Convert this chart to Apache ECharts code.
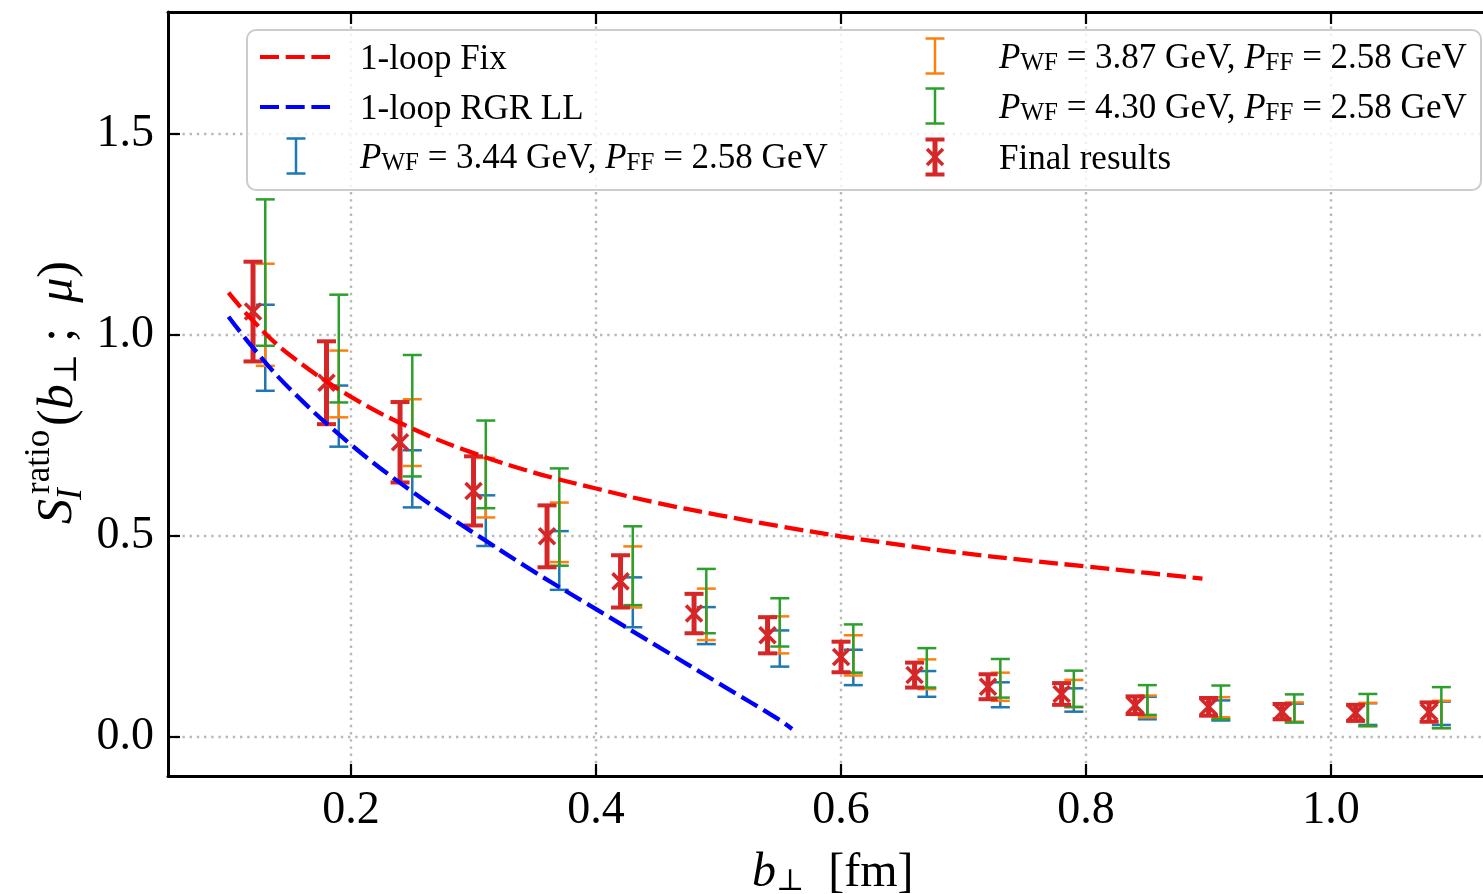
<!DOCTYPE html>
<html>
<head>
<meta charset="utf-8">
<script src="https://cdn.jsdelivr.net/npm/echarts@6/dist/echarts.min.js"></script>
<style>
  html, body { margin: 0; padding: 0; background: #ffffff; }
  #chart { width: 1483px; height: 894px; }
</style>
</head>
<body>
<div id="chart"></div>
<script>
// Transverse separations b_perp [fm]: final results and the three momentum scans (shifted slightly right)
const bFinal = [0.12, 0.18, 0.24, 0.30, 0.36, 0.42, 0.48, 0.54, 0.60, 0.66, 0.72, 0.78, 0.84, 0.90, 0.96, 1.02, 1.08];
const bScan  = [0.13, 0.19, 0.25, 0.31, 0.37, 0.43, 0.49, 0.55, 0.61, 0.67, 0.73, 0.79, 0.85, 0.91, 0.97, 1.03, 1.09];

// P_WF = 3.44 GeV, P_FF = 2.58 GeV
const p344Mean = [0.968, 0.798, 0.642, 0.538, 0.439, 0.335, 0.277, 0.220, 0.173, 0.132, 0.105, 0.092, 0.072, 0.066, 0.060, 0.057, 0.059];
const p344Err  = [0.107, 0.076, 0.071, 0.063, 0.073, 0.062, 0.046, 0.045, 0.044, 0.032, 0.031, 0.029, 0.028, 0.025, 0.023, 0.027, 0.029];
// P_WF = 3.87 GeV, P_FF = 2.58 GeV
const p387Mean = [1.050, 0.878, 0.757, 0.620, 0.509, 0.398, 0.305, 0.254, 0.203, 0.156, 0.125, 0.108, 0.076, 0.074, 0.062, 0.056, 0.056];
const p387Err  = [0.127, 0.083, 0.083, 0.074, 0.074, 0.076, 0.064, 0.046, 0.050, 0.037, 0.035, 0.034, 0.027, 0.025, 0.024, 0.029, 0.034];
// P_WF = 4.30 GeV, P_FF = 2.58 GeV
const p430Mean = [1.155, 0.966, 0.799, 0.678, 0.547, 0.426, 0.338, 0.285, 0.220, 0.172, 0.146, 0.120, 0.092, 0.086, 0.071, 0.067, 0.073];
const p430Err  = [0.182, 0.134, 0.151, 0.109, 0.121, 0.098, 0.080, 0.060, 0.060, 0.049, 0.048, 0.045, 0.037, 0.042, 0.035, 0.040, 0.051];
// Final results
const finalMean = [1.058, 0.881, 0.733, 0.612, 0.499, 0.387, 0.307, 0.253, 0.199, 0.154, 0.125, 0.107, 0.079, 0.075, 0.063, 0.060, 0.062];
const finalErr  = [0.124, 0.103, 0.100, 0.086, 0.077, 0.065, 0.049, 0.045, 0.038, 0.031, 0.031, 0.027, 0.022, 0.022, 0.019, 0.020, 0.024];

// Perturbative curves
const fixB = [0.10, 0.12, 0.15, 0.20, 0.25, 0.30, 0.35, 0.40, 0.45, 0.50, 0.55, 0.60, 0.65, 0.70, 0.75, 0.80, 0.85, 0.895];
const fixS = [1.105, 1.035, 0.950, 0.846, 0.767, 0.706, 0.657, 0.618, 0.582, 0.552, 0.524, 0.499, 0.477, 0.457, 0.440, 0.424, 0.408, 0.394];
const rgrB = [0.10, 0.12, 0.15, 0.20, 0.25, 0.30, 0.35, 0.40, 0.45, 0.50, 0.55, 0.56];
const rgrS = [1.045, 0.968, 0.866, 0.727, 0.610, 0.508, 0.410, 0.318, 0.226, 0.134, 0.042, 0.020];

// Tick positions
const xTicks = [0.2, 0.4, 0.6, 0.8, 1.0];
const yTicks = [0.0, 0.5, 1.0, 1.5];

const SERIF = "'Liberation Serif', 'Times New Roman', 'DejaVu Serif', serif";
const C_BLUE = '#1f77b4', C_ORANGE = '#ff7f0e', C_GREEN = '#2ca02c', C_RED = '#d62728';
const DASH = [19, 6.7];

function toBars(xs, mean, err) {
  return xs.map((x, i) => [x, mean[i] - err[i], mean[i] + err[i], mean[i]]);
}
function toLine(xs, ys) {
  return xs.map((x, i) => [x, ys[i]]);
}

// Error bar: vertical stem, two caps and an optional 'x' marker at the mean
function errorBarItem(color, stemWidth, capWidth, capHalf, crossHalf) {
  return function (params, api) {
    const x = api.value(0);
    const lo = api.coord([x, api.value(1)]);
    const hi = api.coord([x, api.value(2)]);
    const mid = api.coord([x, api.value(3)]);
    const stem = { stroke: color, lineWidth: stemWidth, fill: null };
    const cap = { stroke: color, lineWidth: capWidth, fill: null };
    const kids = [
      { type: 'line', shape: { x1: hi[0], y1: hi[1], x2: lo[0], y2: lo[1] }, style: stem },
      { type: 'line', shape: { x1: hi[0] - capHalf, y1: hi[1], x2: hi[0] + capHalf, y2: hi[1] }, style: cap },
      { type: 'line', shape: { x1: lo[0] - capHalf, y1: lo[1], x2: lo[0] + capHalf, y2: lo[1] }, style: cap }
    ];
    if (crossHalf) {
      const h = crossHalf;
      const xs = { stroke: color, lineWidth: 3.6, fill: null };
      kids.push({ type: 'line', shape: { x1: mid[0] - h, y1: mid[1] - h, x2: mid[0] + h, y2: mid[1] + h }, style: xs });
      kids.push({ type: 'line', shape: { x1: mid[0] - h, y1: mid[1] + h, x2: mid[0] + h, y2: mid[1] - h }, style: xs });
    }
    return { type: 'group', children: kids };
  };
}

// ---- legend drawn as graphic elements ----
function legendBar(cx, cy, half, color, stemW, capW, capHalf, cross) {
  const els = [
    { type: 'line', shape: { x1: cx, y1: cy - half, x2: cx, y2: cy + half }, style: { stroke: color, lineWidth: stemW } },
    { type: 'line', shape: { x1: cx - capHalf, y1: cy - half, x2: cx + capHalf, y2: cy - half }, style: { stroke: color, lineWidth: capW } },
    { type: 'line', shape: { x1: cx - capHalf, y1: cy + half, x2: cx + capHalf, y2: cy + half }, style: { stroke: color, lineWidth: capW } }
  ];
  if (cross) {
    els.push({ type: 'line', shape: { x1: cx - cross, y1: cy - cross, x2: cx + cross, y2: cy + cross }, style: { stroke: color, lineWidth: 3.6 } });
    els.push({ type: 'line', shape: { x1: cx - cross, y1: cy + cross, x2: cx + cross, y2: cy - cross }, style: { stroke: color, lineWidth: 3.6 } });
  }
  return els;
}
const legRich = {
  n: { fontFamily: SERIF, fontSize: 35, color: '#000', lineHeight: 40, verticalAlign: 'bottom' },
  i: { fontFamily: SERIF, fontSize: 35, fontStyle: 'italic', color: '#000', lineHeight: 40, verticalAlign: 'bottom' },
  s: { fontFamily: SERIF, fontSize: 25, color: '#000', lineHeight: 26, verticalAlign: 'bottom' }
};
function legendText(x, y, text) {
  return { type: 'text', x: x, y: y, style: { text: text, rich: legRich, verticalAlign: 'middle', align: 'left', fontFamily: SERIF, fontSize: 35, fill: '#000' } };
}
function momentumLabel(pwf) {
  return '{i|P}{s|WF}{n| = ' + pwf + ' GeV, }{i|P}{s|FF}{n| = 2.58 GeV}';
}

const legendEls = [].concat(
  [{ type: 'rect', shape: { x: 247, y: 30, width: 1234, height: 160, r: 9 },
     style: { fill: 'rgba(255,255,255,0.8)', stroke: '#cccccc', lineWidth: 2 } }],
  [{ type: 'line', shape: { x1: 260, y1: 57, x2: 330, y2: 57 }, style: { stroke: '#ff0000', lineWidth: 4, lineDash: DASH } }],
  [{ type: 'line', shape: { x1: 260, y1: 107, x2: 330, y2: 107 }, style: { stroke: '#0000ff', lineWidth: 4, lineDash: DASH } }],
  legendBar(296, 156, 17.5, C_BLUE, 2.5, 2.5, 9.5, 0),
  legendBar(935, 56, 17.5, C_ORANGE, 2.5, 2.5, 9.5, 0),
  legendBar(935, 106, 17.5, C_GREEN, 2.5, 2.5, 9.5, 0),
  legendBar(935, 157, 17.5, C_RED, 5, 4, 9.5, 8),
  [
    legendText(360, 57, '{n|1-loop Fix}'),
    legendText(360, 107, '{n|1-loop RGR LL}'),
    legendText(360, 156, momentumLabel('3.44')),
    legendText(999, 56, momentumLabel('3.87')),
    legendText(999, 106, momentumLabel('4.30')),
    legendText(999, 157, '{n|Final results}')
  ]
).map(e => Object.assign({ z: 100, silent: true }, e));

// ---- axis titles ----
const titleRich = {
  i: { fontFamily: SERIF, fontSize: 48, fontStyle: 'italic', lineHeight: 50, verticalAlign: 'bottom', color: '#000' },
  s: { fontFamily: SERIF, fontSize: 30, lineHeight: 30, verticalAlign: 'bottom', color: '#000' },
  n: { fontFamily: SERIF, fontSize: 48, lineHeight: 50, verticalAlign: 'bottom', color: '#000' }
};
const yRich = {
  i: { fontFamily: SERIF, fontSize: 50, fontStyle: 'italic', lineHeight: 52, verticalAlign: 'bottom', color: '#000' },
  s: { fontFamily: SERIF, fontSize: 32, lineHeight: 30, verticalAlign: 'bottom', color: '#000' },
  n: { fontFamily: SERIF, fontSize: 50, lineHeight: 52, verticalAlign: 'bottom', color: '#000' }
};
const xTitle = {
  type: 'text', x: 752, y: 872, z: 100, silent: true,
  style: { text: '{i|b}{s|⊥}{n|  [fm]}', align: 'left', verticalAlign: 'middle', rich: titleRich }
};
const yTitle = {
  type: 'group', x: 74, y: 524, rotation: Math.PI / 2, z: 100, silent: true,
  children: [
    { type: 'text', x: 0, y: -16, style: { text: 'S', fontFamily: SERIF, fontSize: 50, fontStyle: 'italic', fill: '#000', verticalAlign: 'middle', align: 'left' } },
    { type: 'text', x: 30, y: -34, style: { text: 'ratio', fontFamily: SERIF, fontSize: 35, fill: '#000', verticalAlign: 'middle', align: 'left' } },
    { type: 'text', x: 24, y: -2, style: { text: 'I', fontFamily: SERIF, fontSize: 35, fontStyle: 'italic', fill: '#000', verticalAlign: 'middle', align: 'left' } },
    { type: 'text', x: 98, y: -16,
      style: { text: '{n|(}{i|b}{s|⊥}{n| ;  }{i|μ}{n|)}', align: 'left', verticalAlign: 'middle', rich: yRich } }
  ]
};

const tickFmt = v => Number(v).toFixed(1);
const splitStyle = { show: true, lineStyle: { color: '#b8b8b8', width: 2.4, type: [2.4, 4.8] } };
const frameLine = { show: true, onZero: false, lineStyle: { color: '#000', width: 3 } };

const option = {
  animation: false,
  backgroundColor: '#ffffff',
  grid: { left: 168, top: 12, right: 0, bottom: 118, show: false },
  xAxis: [
    {
      type: 'value', position: 'bottom', min: 0.0506, max: 1.124,
      axisLine: frameLine,
      axisTick: { show: true, inside: true, length: 12, lineStyle: { color: '#000', width: 2.2 }, customValues: xTicks },
      axisLabel: { show: true, customValues: xTicks, formatter: tickFmt, fontFamily: SERIF, fontSize: 46, color: '#000', margin: 12 },
      splitLine: splitStyle
    },
    {
      type: 'value', position: 'top', min: 0.0506, max: 1.124,
      axisLine: frameLine,
      axisTick: { show: true, inside: true, length: 12, lineStyle: { color: '#000', width: 2.2 }, customValues: xTicks },
      axisLabel: { show: false },
      splitLine: { show: false }
    }
  ],
  yAxis: [
    {
      type: 'value', position: 'left', min: -0.097, max: 1.803,
      axisLine: frameLine,
      axisTick: { show: true, inside: true, length: 12, lineStyle: { color: '#000', width: 2.2 }, customValues: yTicks },
      axisLabel: { show: true, customValues: yTicks, formatter: tickFmt, fontFamily: SERIF, fontSize: 46, color: '#000', margin: 14 },
      splitLine: splitStyle
    }
  ],
  series: [
    { type: 'custom', name: 'P_WF = 3.44 GeV', renderItem: errorBarItem(C_BLUE, 2.5, 2.5, 9.5, 0),
      data: toBars(bScan, p344Mean, p344Err), encode: { x: 0, y: [1, 2] }, z: 2, silent: true },
    { type: 'custom', name: 'P_WF = 3.87 GeV', renderItem: errorBarItem(C_ORANGE, 2.5, 2.5, 9.5, 0),
      data: toBars(bScan, p387Mean, p387Err), encode: { x: 0, y: [1, 2] }, z: 3, silent: true },
    { type: 'custom', name: 'P_WF = 4.30 GeV', renderItem: errorBarItem(C_GREEN, 2.5, 2.5, 9.5, 0),
      data: toBars(bScan, p430Mean, p430Err), encode: { x: 0, y: [1, 2] }, z: 4, silent: true },
    { type: 'custom', name: 'Final results', renderItem: errorBarItem(C_RED, 5, 4, 9.5, 8),
      data: toBars(bFinal, finalMean, finalErr), encode: { x: 0, y: [1, 2] }, z: 5, silent: true },
    { type: 'line', name: '1-loop Fix', data: toLine(fixB, fixS), symbol: 'none', smooth: 0.4, z: 6, silent: true,
      lineStyle: { color: '#ff0000', width: 4.3, type: DASH } },
    { type: 'line', name: '1-loop RGR LL', data: toLine(rgrB, rgrS), symbol: 'none', smooth: 0.4, z: 6, silent: true,
      lineStyle: { color: '#0000ff', width: 4.3, type: DASH } }
  ],
  graphic: { elements: legendEls.concat([xTitle, yTitle]) }
};

const chart = echarts.init(document.getElementById('chart'), null, { renderer: 'canvas', width: 1483, height: 894 });
chart.setOption(option);
</script>
</body>
</html>
